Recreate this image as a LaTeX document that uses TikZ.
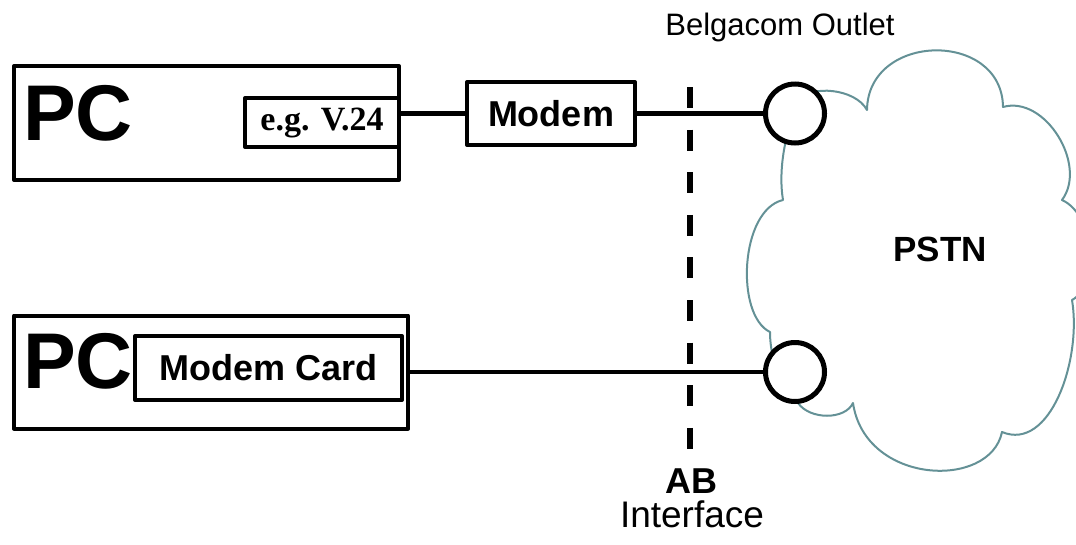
\documentclass[tikz,border=0pt]{standalone}
\usepackage{fontspec}
\setmainfont{Liberation Sans}
\newfontfamily\serifface{Liberation Serif}
\usetikzlibrary{positioning}

\definecolor{cloudgray}{RGB}{100,145,150}

\begin{document}
\begin{tikzpicture}[x=1pt, y=1pt,
    box/.style={draw, line width=4pt, line join=round, inner sep=0pt},
    outlet/.style={draw, circle, fill=white, line width=5pt, minimum size=59pt, inner sep=0pt},
    wire/.style={line width=4.5pt},
    bigpc/.style={inner sep=0pt, font=\fontsize{79}{80}\selectfont\bfseries},
    label/.style={inner sep=0pt, font=\fontsize{36}{40}\selectfont\bfseries}]
    \useasboundingbox (0,0) rectangle (1076,-544);

    % PSTN cloud
    \draw[cloudgray, line width=2pt, line join=round]
        (800,-100) .. controls (810,-85) and (855,-88) .. (867,-110)
        .. controls (868,-32) and (1002,-30) .. (1003,-107)
        .. controls (1045,-95) and (1088,-165) .. (1062,-200)
        .. controls (1095,-215) and (1100,-285) .. (1072,-300)
        .. controls (1082,-360) and (1050,-452) .. (1002,-432)
        .. controls (990,-490) and (865,-485) .. (853,-403)
        .. controls (845,-420) and (810,-420) .. (798,-403)
        .. controls (775,-380) and (770,-350) .. (770,-332)
        .. controls (735,-315) and (740,-210) .. (783,-200)
        .. controls (778,-170) and (785,-130) .. cycle;
    \node[label, font=\fontsize{35}{40}\selectfont\bfseries] (pstn) at (940,-249.5) {PSTN};

    % upper PC with external modem
    \node[box, minimum width=385pt, minimum height=114pt] (pc1) at (206.5,-123) {};
    \node[box, minimum width=154pt, minimum height=49pt, font=\fontsize{34}{36}\selectfont\serifface\bfseries]
        (v24) at (322,-122.5) {e.g. V.24};
    \node[bigpc] (pc1label) at (78,-113.5) {PC};
    \node[box, minimum width=168pt, minimum height=63pt, label] (modem) at (551,-113.5) {Modem};
    \node[outlet] (outlet1) at (795,-113.5) {};

    % lower PC with modem card
    \node[box, minimum width=394pt, minimum height=113pt] (pc2) at (211,-372) {};
    \node[box, minimum width=267pt, minimum height=64pt, label] (card) at (268.5,-368) {Modem Card};
    \node[bigpc] (pc2label) at (78,-361.5) {PC};
    \node[outlet] (outlet2) at (795,-372) {};

    % wires
    \draw[wire] (pc1.east |- modem.west) -- (modem.west);
    \draw[wire] (modem.east) -- (outlet1.west);
    \draw[wire] (pc2.east) -- (outlet2.west);

    % AB interface
    \coordinate (abtop) at (690,-87);
    \coordinate (abbottom) at (690,-450);
    \draw[line width=6pt, dash pattern=on 21pt off 21.6pt] (abtop) -- (abbottom);

    % labels
    \node[anchor=base, inner sep=0pt, font=\fontsize{31}{34}\selectfont] (outletlabel) at (780,-35) {Belgacom Outlet};
    \node[anchor=base, label] (ab) at (691,-493) {AB};
    \node[anchor=base, inner sep=0pt, font=\fontsize{37}{40}\selectfont] (iface) at (692,-527) {Interface};
\end{tikzpicture}
\end{document}
